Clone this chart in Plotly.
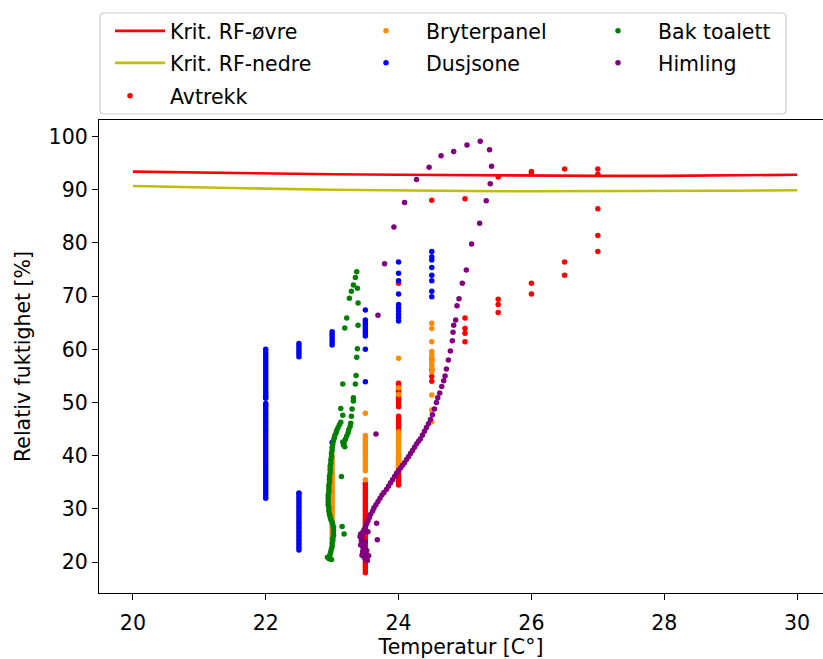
import plotly.graph_objects as go

# ---------------- data ----------------
krit_x = [20, 21, 22, 23, 24, 25, 26, 27, 28, 29, 30]
krit_ovre = [93.4, 93.2, 93.0, 92.9, 92.8, 92.7, 92.65, 92.6, 92.6, 92.7, 92.8]
krit_nedre = [90.7, 90.4, 90.2, 90.0, 89.85, 89.75, 89.7, 89.7, 89.7, 89.8, 89.9]

# Avtrekk (red) : temperature -> list of RH readings
avtrekk = {
    23.5: [18.0, 18.5, 19.0, 19.5, 20.0, 20.5, 21.0, 21.5, 22.0, 22.5, 23.0, 23.5, 24.0,
           24.5, 25.0, 25.5, 26.0, 26.5, 27.0, 27.5, 28.0, 28.5, 29.0, 29.5, 30.0, 30.5,
           31.0, 31.5, 32.0, 32.5, 33.0, 33.5, 34.0, 34.5, 34.8],
    24.0: [72.4, 53.6, 53.1, 52.6, 52.1, 51.6, 51.1, 50.6, 50.1, 49.6, 49.2, 47.4, 46.9,
           46.4, 45.9, 45.4, 44.9, 40.0, 39.5, 39.0, 38.5, 38.0, 37.5, 37.0, 36.5, 36.0,
           35.5, 35.0, 34.5],
    24.5: [88.0, 58.0, 56.2, 54.9, 54.0],
    25.0: [88.3, 65.9, 63.9, 63.0, 61.4],
    25.5: [92.4, 69.4, 68.4, 66.9],
    26.0: [93.4, 93.0, 72.4, 70.4],
    26.5: [93.9, 76.4, 73.9],
    27.0: [93.9, 92.9, 86.4, 81.4, 78.4],
}

# Bryterpanel (orange)
bryterpanel = {
    23.0: [24.0, 24.5, 25.0, 25.5, 26.0, 26.5, 27.0, 27.5, 28.0, 28.5, 29.0, 29.5, 30.0,
           30.5, 31.0, 31.5, 32.0, 32.5, 33.0, 33.5, 34.0, 34.5, 35.0, 35.5, 36.0, 36.5,
           37.0, 37.5, 38.0, 38.5, 39.0, 39.5, 40.0],
    23.5: [48.0, 43.8, 43.3, 42.8, 42.3, 41.8, 41.3, 40.8, 40.3, 39.8, 39.3, 38.8, 38.3,
           37.8, 37.2, 35.5],
    24.0: [58.3, 52.8, 51.5, 44.5, 44.0, 43.5, 43.0, 42.5, 42.0, 41.5, 41.0, 40.5, 40.0,
           39.5, 39.0, 38.5, 38.0],
    24.5: [64.9, 63.9, 61.4, 59.6, 59.0, 58.4, 57.8, 57.2, 56.6, 55.8, 51.4, 48.6, 46.4],
}

# Dusjsone (blue)
dusjsone = {
    22.0: [32.0, 32.5, 33.0, 33.5, 34.0, 34.5, 35.0, 35.5, 36.0, 36.5, 37.0, 37.5, 38.0,
           38.5, 39.0, 39.5, 40.0, 40.5, 41.0, 41.5, 42.0, 42.5, 43.0, 43.5, 44.0, 44.5,
           45.0, 45.5, 46.0, 46.5, 47.0, 47.5, 48.0, 48.5, 49.0, 49.5, 49.8, 50.8, 51.2,
           51.6, 52.0, 52.5, 53.0, 53.5, 54.0, 54.5, 55.0, 55.5, 56.0, 56.5, 57.0, 57.5,
           58.0, 58.5, 59.0, 59.5, 60.0],
    22.5: [22.3, 22.8, 23.3, 23.8, 24.3, 24.8, 25.3, 25.8, 26.3, 26.8, 27.3, 27.8, 28.3,
           28.8, 29.3, 29.8, 30.3, 30.8, 31.3, 31.8, 32.3, 32.8, 33.0,
           58.6, 59.1, 59.6, 60.1, 60.6, 61.1],
    23.0: [42.5, 60.8, 61.3, 61.8, 62.3, 62.8, 63.3],
    23.5: [67.4, 65.5, 65.0, 64.5, 64.0, 63.5, 63.0, 62.5, 60.0, 53.9],
    24.0: [76.4, 74.3, 72.9, 70.4, 68.4, 67.8, 67.2, 66.6, 66.0, 65.3],
    24.5: [78.4, 77.4, 76.8, 75.4, 73.9, 72.9, 70.9, 69.9],
}

# Bak toalett (green)
bak_toalett_t = [23.37, 23.35, 23.32, 23.38, 23.29, 23.26, 23.39, 23.22, 23.19, 23.39,
                 23.38, 23.37, 23.36, 23.16, 23.35, 23.32, 23.32, 23.13, 23.30, 23.16,
                 23.29, 23.13, 23.28, 23.14, 23.15, 23.18,
                 23.11, 23.09, 23.07, 23.06, 23.04, 23.03, 23.02, 23.01, 23.00, 23.00,
                 22.99, 22.99, 22.98, 22.98, 22.97, 22.97, 22.97, 22.96, 22.96, 22.96,
                 22.95, 22.95, 22.95, 22.94, 22.94, 22.94, 22.94, 22.95, 22.95, 22.96,
                 22.97, 22.98, 23.00, 23.01, 23.02, 23.02, 23.02, 23.02, 23.01, 23.01,
                 23.00, 23.00, 22.99, 22.98, 22.97, 22.96, 22.95, 22.97, 22.93, 22.99,
                 23.27, 23.25, 23.24, 23.22, 23.20, 23.18, 23.17, 23.19, 23.16]
bak_toalett_rh = [74.6, 73.5, 72.1, 71.5, 70.9, 69.6, 68.7, 65.9, 64.0, 64.5,
                  60.1, 58.5, 55.1, 53.5, 53.5, 50.9, 50.3, 48.9, 48.8, 47.6,
                  47.4, 46.3, 46.1, 36.1, 26.7, 25.3,
                  45.8, 45.3, 44.8, 44.3, 43.8, 43.3, 42.8, 42.2, 41.6, 41.0,
                  40.4, 39.8, 39.2, 38.6, 38.0, 37.4, 36.8, 36.2, 35.6, 35.0,
                  34.4, 33.8, 33.2, 32.6, 32.0, 31.4, 30.8, 30.2, 29.6, 29.0,
                  28.5, 28.0, 27.5, 27.0, 26.5, 26.0, 25.5, 25.0, 24.5, 24.0,
                  23.5, 23.0, 22.5, 22.0, 21.5, 21.0, 20.7, 20.6, 20.9, 20.5,
                  45.5, 44.9, 44.3, 43.7, 43.1, 42.5, 42.0, 41.7, 42.6]

# Himling (purple)
himling_t = [23.66, 23.69, 23.79, 23.93, 24.09, 24.27, 24.46, 24.64, 24.83, 25.03,
             25.23, 25.37, 25.40, 25.38, 25.32, 25.22, 25.10, 25.02, 24.96, 24.91,
             24.88, 24.86, 24.83, 24.82, 24.81, 24.78, 24.75, 24.72, 24.70, 24.68,
             24.65, 24.62, 24.59, 24.57, 24.54, 24.51, 24.48, 24.45, 24.42, 24.39,
             24.36, 24.33, 24.30, 24.27, 24.24, 24.21, 24.18, 24.15, 24.12, 24.09,
             24.06, 24.03, 24.00, 23.97, 23.94, 23.91, 23.88, 23.85, 23.82, 23.78,
             23.75, 23.72, 23.69, 23.66, 23.63, 23.61, 23.58, 23.56, 23.54, 23.52,
             23.50, 23.48, 23.46, 23.45, 23.44, 23.44, 23.45, 23.46, 23.47, 23.46,
             23.47, 23.48, 23.50, 23.52, 23.51, 23.49, 23.43, 23.42, 23.67, 23.68,
             23.53, 23.45, 23.50, 23.52, 23.55, 23.43, 23.54]
himling_rh = [44.1, 66.4, 76.1, 83.0, 87.6, 91.9, 94.2, 96.4, 97.2, 98.4,
              99.1, 97.5, 94.4, 91.1, 87.9, 83.7, 79.8, 74.9, 72.4, 69.5,
              68.2, 65.5, 64.5, 63.2, 61.6, 59.7, 58.0, 56.3, 55.0, 54.1,
              53.0, 51.8, 50.9, 50.0, 48.8, 47.7, 46.8, 46.0, 45.3, 44.6,
              43.9, 43.2, 42.7, 42.2, 41.6, 41.0, 40.4, 39.8, 39.3, 38.7,
              38.2, 37.7, 37.2, 36.7, 36.1, 35.5, 34.9, 34.3, 33.7, 33.1,
              32.6, 32.0, 31.4, 30.8, 30.2, 29.6, 29.0, 28.4, 27.8, 27.2,
              26.6, 26.1, 25.6, 25.0, 24.5, 24.0, 23.5, 23.0, 22.5, 22.0,
              21.5, 21.0, 20.6, 20.9, 21.8, 22.8, 25.3, 24.8, 27.3, 24.2,
              20.3, 21.3, 23.8, 22.2, 21.2, 23.2, 25.7]


def flatten(d):
    xs, ys = [], []
    for t, vals in d.items():
        for v in vals:
            xs.append(t)
            ys.append(v)
    return xs, ys


# ---------------- figure ----------------
W, H = 823, 659
ML, MR, MT, MB = 99, 0, 120, 66
PW, PH = W - ML - MR, H - MT - MB


def px2paper_x(px):
    return (px - ML) / PW


def px2paper_y(py):
    return (H - MB - py) / PH


FONT = "DejaVu Sans"
FS = 20.5

fig = go.Figure()
fig.add_trace(go.Scatter(x=krit_x, y=krit_ovre, mode="lines", name="Krit. RF-øvre",
                         line=dict(color="#ff0000", width=2.6), legend="legend"))
fig.add_trace(go.Scatter(x=krit_x, y=krit_nedre, mode="lines", name="Krit. RF-nedre",
                         line=dict(color="#bfbf00", width=2.6), legend="legend2"))

series = [
    ("Avtrekk", avtrekk, "#ff0000", "legend3"),
    ("Bryterpanel", bryterpanel, "#ff8c00", "legend4"),
    ("Dusjsone", dusjsone, "#0000ff", "legend5"),
]
for name, d, col, lg in series:
    xs, ys = flatten(d)
    fig.add_trace(go.Scatter(x=xs, y=ys, mode="markers", name=name, legend=lg,
                             marker=dict(color=col, size=5.5, line=dict(width=0))))

fig.add_trace(go.Scatter(x=bak_toalett_t, y=bak_toalett_rh, mode="markers", name="Bak toalett",
                         legend="legend6", marker=dict(color="#008000", size=5.5, line=dict(width=0))))
fig.add_trace(go.Scatter(x=himling_t, y=himling_rh, mode="markers", name="Himling",
                         legend="legend7", marker=dict(color="#800080", size=5.5, line=dict(width=0))))

# legend placement (one legend per entry, arranged as a 3-column matplotlib legend)
col_text_px = [170, 426, 658]
row_px = [31, 63, 96]
entries = [("legend", 0, 0, 50), ("legend2", 0, 1, 50), ("legend3", 0, 2, 70),
           ("legend4", 1, 0, 70), ("legend5", 1, 1, 70), ("legend6", 2, 0, 70),
           ("legend7", 2, 1, 70)]
leg_layout = {}
for key, c, r, iw in entries:
    gap = iw + 10
    leg_layout[key] = dict(
        x=px2paper_x(col_text_px[c] - gap), xanchor="left",
        y=px2paper_y(row_px[r]), yanchor="middle",
        bgcolor="rgba(0,0,0,0)", borderwidth=0, itemwidth=iw,
        font=dict(family=FONT, size=FS, color="black"),
    )

# legend frame with rounded corners (paper coordinates)
x0, x1 = px2paper_x(100), px2paper_x(786)
y0, y1 = px2paper_y(114), px2paper_y(13)
rx, ry = 4 / PW, 4 / PH
frame = (f"M{x0+rx},{y1} L{x1-rx},{y1} Q{x1},{y1} {x1},{y1-ry} "
         f"L{x1},{y0+ry} Q{x1},{y0} {x1-rx},{y0} L{x0+rx},{y0} Q{x0},{y0} {x0},{y0+ry} "
         f"L{x0},{y1-ry} Q{x0},{y1} {x0+rx},{y1} Z")

fig.update_layout(
    width=W, height=H,
    margin=dict(l=ML, r=MR, t=MT, b=MB, autoexpand=False),
    paper_bgcolor="white", plot_bgcolor="white",
    font=dict(family=FONT, size=FS, color="black"),
    showlegend=True,
    shapes=[dict(type="path", xref="paper", yref="paper", path=frame,
                 line=dict(color="#cccccc", width=1.2), fillcolor="rgba(255,255,255,0.8)",
                 layer="above")],
    xaxis=dict(range=[19.49, 30.39], tickmode="array", tickvals=[20, 22, 24, 26, 28, 30],
               showgrid=False, zeroline=False, showline=True, linecolor="black", linewidth=1.3,
               mirror=True, ticks="outside", ticklen=6, tickwidth=1.3, tickcolor="black",
               ticklabelstandoff=5,
               tickfont=dict(family=FONT, size=FS, color="black"),
               title=dict(text="Temperatur [C°]", standoff=12,
                          font=dict(family=FONT, size=FS, color="black"))),
    yaxis=dict(range=[14.2, 103.1], tickmode="array",
               tickvals=[20, 30, 40, 50, 60, 70, 80, 90, 100],
               showgrid=False, zeroline=False, showline=True, linecolor="black", linewidth=1.3,
               mirror=False, ticks="outside", ticklen=6, tickwidth=1.3, tickcolor="black",
               tickfont=dict(family=FONT, size=FS, color="black"),
               title=dict(text="Relativ fuktighet [%]", standoff=12,
                          font=dict(family=FONT, size=FS, color="black"))),
    **leg_layout,
)

fig.write_html("out.html")
